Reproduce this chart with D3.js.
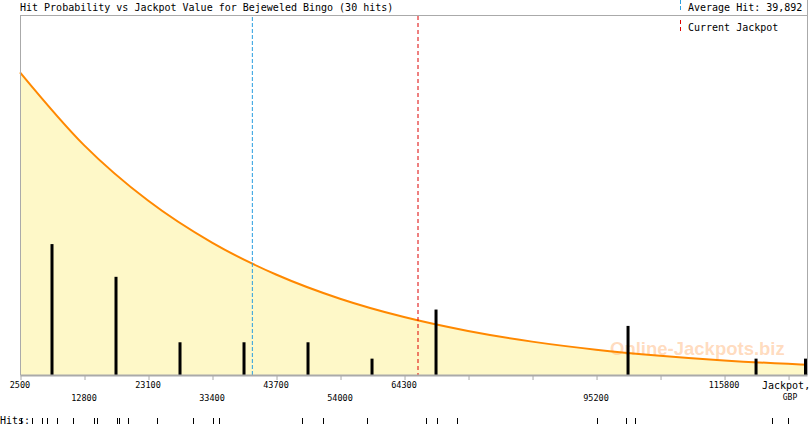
<!DOCTYPE html>
<html><head><meta charset="utf-8">
<script src="https://cdn.jsdelivr.net/npm/d3@7"></script>
<style>body{margin:0;background:#fff}svg{display:block}text{font-family:"DejaVu Sans Mono",monospace}</style>
</head><body><svg id="c" width="810" height="425"></svg>
<script>
// ---- data ----
const title = "Hit Probability vs Jackpot Value for Bejeweled Bingo (30 hits)";
const averageHit = 39892;
const currentJackpot = 66550;
const binStart = 2500, binWidth = 10300;
const binCounts = [8, 6, 2, 2, 2, 1, 4, 0, 0, 3, 0, 1, 1];
const hitValues = [2661, 2661, 4431, 6041, 6845, 8455, 8455, 11030, 14409, 14892, 18111, 18111, 18433, 19881,
  24548, 30342, 33500, 34527, 47884, 51264, 58345, 67841, 67841, 69611, 72830, 95300, 100029, 101477, 123526, 126101];
const curveX = [2500, 12800, 23100, 33400, 43700, 54000, 64300, 74600, 84900, 95200, 105500, 115800, 126100, 129150];
const curveY = [18.5, 14.05, 10.66, 8.09, 6.14, 4.66, 3.54, 2.69, 2.04, 1.55, 1.18, 0.89, 0.68, 0.63];
const tickValues = [2500, 12800, 23100, 33400, 43700, 54000, 64300, 74600, 84900, 95200, 105500, 115800, 126100];
const tickLabels = ["2500", "12800", "23100", "33400", "43700", "54000", "64300", "", "", "95200", "", "115800", ""];
const tickRows = [0, 1, 0, 1, 0, 1, 0, 0, 0, 1, 0, 0, 0];

// ---- drawing ----
const svg = d3.select("#c");
const L = 20, R = 807, T = 15, B = 375;
const x = d3.scaleLinear().domain([2500, 129150]).range([L, R]);
const y = d3.scaleLinear().domain([0, 22]).range([B, T]);
const pts = curveX.map((v, i) => [v, curveY[i]]);

svg.append("path").datum(pts)
  .attr("d", d3.area().x(d => x(d[0])).y0(B).y1(d => y(d[1])).curve(d3.curveMonotoneX))
  .attr("fill", "#fef8c8");

svg.append("text").attr("x", 610).attr("y", 355)
  .style("font-family", "Liberation Sans, Arial, sans-serif").style("font-weight", "bold").style("font-size", "18.5px")
  .attr("fill", "#ffb070").attr("fill-opacity", 0.45).text("Online-Jackpots.biz");

svg.append("path").datum(pts)
  .attr("d", d3.line().x(d => x(d[0])).y(d => y(d[1])).curve(d3.curveMonotoneX))
  .attr("fill", "none").attr("stroke", "#ff8800").attr("stroke-width", 2);

// dashed markers
svg.append("line").attr("x1", x(averageHit)).attr("x2", x(averageHit)).attr("y1", T + 2).attr("y2", B)
  .attr("stroke", "#2a9fe0").attr("stroke-width", 1).attr("stroke-dasharray", "4,2");
svg.append("line").attr("x1", x(currentJackpot)).attr("x2", x(currentJackpot)).attr("y1", T + 1).attr("y2", B)
  .attr("stroke", "#dd0000").attr("stroke-width", 1).attr("stroke-dasharray", "4,3");

// bars
svg.append("g").selectAll("rect").data(binCounts.map((c, i) => ({c, i})).filter(d => d.c > 0)).join("rect")
  .attr("x", d => Math.min(x(binStart + binWidth * (d.i + 0.5)), R - 1.5) - 1.5)
  .attr("width", 3)
  .attr("y", d => y(d.c)).attr("height", d => B - y(d.c))
  .attr("fill", "#000");

// frame
const grey = "#aaaaaa";
svg.append("line").attr("x1", L + 0.5).attr("x2", L + 0.5).attr("y1", T).attr("y2", B).attr("stroke", grey);
svg.append("line").attr("x1", L).attr("x2", R + 1).attr("y1", T + 0.5).attr("y2", T + 0.5).attr("stroke", grey);
svg.append("line").attr("x1", R + 0.5).attr("x2", R + 0.5).attr("y1", 0).attr("y2", B).attr("stroke", grey);

// x axis
const ax = svg.append("g").attr("transform", `translate(0,${B})`)
  .call(d3.axisBottom(x).tickValues(tickValues).tickSize(5).tickSizeOuter(0).tickFormat(""));
ax.select(".domain").attr("stroke", grey).attr("stroke-width", 2);
ax.selectAll(".tick line").attr("stroke", grey).attr("transform", "translate(0.5,0)");
svg.append("g").selectAll("text").data(tickValues).join("text")
  .attr("x", d => x(d)).attr("y", (d, i) => tickRows[i] ? 401 : 388)
  .attr("text-anchor", "middle").style("font-size", "8.5px").attr("fill", "#000")
  .text((d, i) => tickLabels[i]);
svg.append("text").attr("x", 762).attr("y", 389).style("font-size", "10px").text("Jackpot,");
svg.append("text").attr("x", 790).attr("y", 400).attr("text-anchor", "middle").style("font-size", "8px").text("GBP");

// title & legend
svg.append("text").attr("x", 20).attr("y", 11).style("font-size", "10px").text(title);
svg.append("line").attr("x1", 680.5).attr("x2", 680.5).attr("y1", 0).attr("y2", 11)
  .attr("stroke", "#2a9fe0").attr("stroke-dasharray", "4,2");
svg.append("line").attr("x1", 680.5).attr("x2", 680.5).attr("y1", 20).attr("y2", 33)
  .attr("stroke", "#dd0000").attr("stroke-dasharray", "4,3");
svg.append("text").attr("x", 688).attr("y", 11).style("font-size", "10px")
  .text("Average Hit: " + d3.format(",")(averageHit));
svg.append("text").attr("x", 688).attr("y", 31).style("font-size", "10px").text("Current Jackpot");

// hits strip
svg.append("text").attr("x", 0).attr("y", 424).style("font-size", "10px").text("Hits:");
svg.append("g").selectAll("line").data(hitValues).join("line")
  .attr("x1", d => Math.round(x(d)) + 0.5).attr("x2", d => Math.round(x(d)) + 0.5)
  .attr("y1", 418).attr("y2", 424).attr("stroke", "#000");
</script></body></html>
